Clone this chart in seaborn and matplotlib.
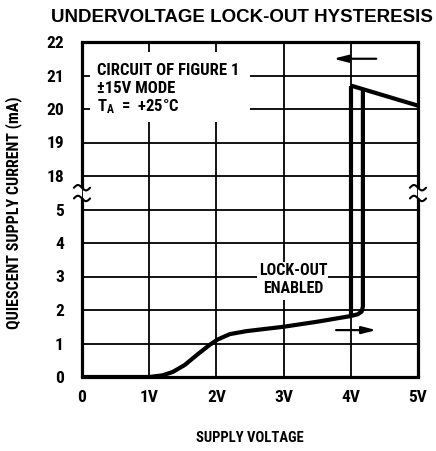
import numpy as np
import pandas as pd
import matplotlib
matplotlib.use("Agg")
import matplotlib.pyplot as plt
import seaborn as sns
from matplotlib.patches import Rectangle

# ---- data ----
volt_up = [0, 1.0, 1.2, 1.35, 1.53, 1.71, 1.9, 2.02, 2.2, 2.45, 3.0, 3.5, 4.0, 4.1, 4.16, 4.18, 4.18]
curr_up = [0, 0, 0.05, 0.15, 0.36, 0.66, 0.96, 1.12, 1.28, 1.37, 1.5, 1.65, 1.82, 1.87, 1.95, 2.1, 20.55]
volt_hi = [4.0, 5.0]
curr_hi = [20.7, 20.1]
volt_dn = [4.0, 4.0]
curr_dn = [20.7, 1.82]

x_ticks = [0, 1, 2, 3, 4, 5]
x_labels = ["0", "1V", "2V", "3V", "4V", "5V"]
y_ticks = [0, 1, 2, 3, 4, 5, 18, 19, 20, 21, 22]
y_labels = ["0", "1", "2", "3", "4", "5", "18", "19", "20", "21", "22"]

sns.set_theme(style="white")
NARROW = ["Roboto Condensed", "DejaVu Sans"]
plt.rcParams["font.family"] = NARROW
plt.rcParams["font.weight"] = "bold"
plt.rcParams["text.color"] = "black"


def fwd(v):
    v = np.asarray(v, dtype=float)
    return np.where(v <= 5, v, np.where(v >= 18, v - 12, 5 + (v - 5) / 13.0))


def inv(d):
    d = np.asarray(d, dtype=float)
    return np.where(d <= 5, d, np.where(d >= 6, d + 12, 5 + (d - 5) * 13.0))


fig = plt.figure(figsize=(4.36, 4.51), dpi=100)
ax = fig.add_axes([82 / 436, 1 - 377 / 451, 336 / 436, 335 / 451])
ax.set_yscale("function", functions=(fwd, inv))
ax.set_xlim(0, 5)
ax.set_ylim(0, 22)

ax.set_xticks(x_ticks)
ax.set_xticklabels(x_labels)
ax.set_yticks(y_ticks)
ax.set_yticklabels(y_labels)
ax.minorticks_off()
ax.tick_params(axis="both", length=0, labelsize=12.5, colors="black")
ax.tick_params(axis="x", pad=9)
ax.tick_params(axis="y", pad=13)
for lab in ax.get_xticklabels() + ax.get_yticklabels():
    lab.set_fontweight("bold")

ax.grid(True, color="black", lw=1.3, ls="-")
ax.set_axisbelow(True)

# white masks behind annotation text
ax.add_patch(Rectangle((0.024, 0.761), 0.476, 0.209, transform=ax.transAxes,
                       facecolor="white", edgecolor="none", zorder=1.8))
ax.add_patch(Rectangle((0.52, 0.23), 0.212, 0.113, transform=ax.transAxes,
                       facecolor="white", edgecolor="none", zorder=1.8))

# curves
for xs, ys in [(volt_up, curr_up), (volt_hi, curr_hi), (volt_dn, curr_dn)]:
    sns.lineplot(x=xs, y=ys, sort=False, estimator=None, color="black", lw=3.0,
                 ax=ax, zorder=3)
for ln in ax.lines:
    ln.set_solid_joinstyle("round")
    ln.set_solid_capstyle("butt")

# spines: top/bottom regular, left/right with break
for s in ["top", "bottom"]:
    ax.spines[s].set_linewidth(2.3)
    ax.spines[s].set_color("black")
ax.spines["left"].set_visible(False)
ax.spines["right"].set_visible(False)
b_lo, b_hi = 0.533, 0.565
for xa in [0, 1]:
    ax.plot([xa, xa], [0, b_lo], transform=ax.transAxes, color="black", lw=2.3,
            clip_on=False, zorder=4, solid_capstyle="butt")
    ax.plot([xa, xa], [b_hi, 1], transform=ax.transAxes, color="black", lw=2.3,
            clip_on=False, zorder=4, solid_capstyle="butt")
    t = np.linspace(-1, 1, 30)
    for yb in [b_lo, b_hi]:
        ax.plot(xa + 0.024 * t, yb - 0.008 * np.sin(np.pi * t), transform=ax.transAxes,
                color="black", lw=1.5, clip_on=False, zorder=4)

# arrows
ax.annotate("", xy=(3.7, 21.5), xytext=(4.42, 21.5),
            arrowprops=dict(arrowstyle="-|>,head_length=0.7,head_width=0.18", color="black", lw=1.6),
            zorder=4)
ax.annotate("", xy=(4.42, 1.4), xytext=(3.74, 1.4),
            arrowprops=dict(arrowstyle="-|>,head_length=0.7,head_width=0.18", color="black", lw=1.6),
            zorder=4)

# annotation texts
kw = dict(transform=ax.transAxes, fontweight="bold", va="center", zorder=5)
ax.text(0.045, 0.916, "CIRCUIT OF FIGURE 1", fontsize=12, ha="left", **kw)
ax.text(0.045, 0.861, "±15V MODE", fontsize=12, ha="left", **kw)
ax.text(0.045, 0.806, r"$\mathregular{T_A}$  =  +25°C", fontsize=12, ha="left", **kw)
ax.text(0.628, 0.319, "LOCK-OUT", fontsize=11.5, ha="center", **kw)
ax.text(0.628, 0.264, "ENABLED", fontsize=11.5, ha="center", **kw)

ax.set_xlabel("SUPPLY VOLTAGE", fontsize=10.5, fontweight="bold", color="black")
ax.xaxis.set_label_coords(0.5, -0.161)
ax.set_ylabel("QUIESCENT SUPPLY CURRENT (mA)", fontsize=11.5, fontweight="bold", color="black")
ax.yaxis.set_label_coords(-0.178, 0.49)

fig.text(51 / 436, 1 - 18 / 451, "UNDERVOLTAGE LOCK-OUT HYSTERESIS", fontsize=13.5,
         fontweight="bold", family=["Liberation Sans", "DejaVu Sans"], color="black",
         ha="left", va="center")

fig.savefig("out.png", dpi=100, facecolor="white")
